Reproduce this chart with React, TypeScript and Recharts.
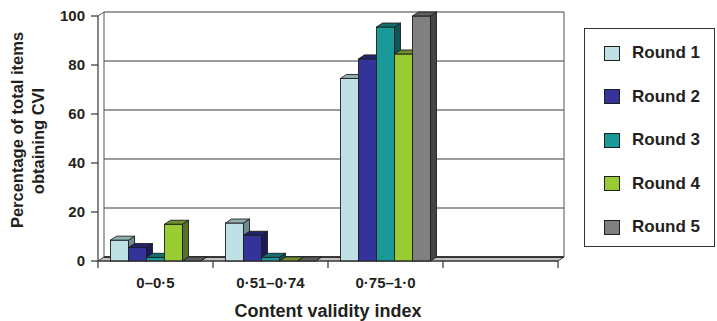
import React from "react";
import { BarChart, Bar, XAxis, YAxis, CartesianGrid, Legend } from "recharts";

// Content validity index bands (the last slot is left empty)
const categories = ["0–0·5", "0·51–0·74", "0·75–1·0", ""];

// Percentage of total items per round
const round1 = [8.5, 15.5, 74.5, null];
const round2 = [5.5, 10.5, 82.5, null];
const round3 = [1.5, 1.5, 95.5, null];
const round4 = [15, 0, 84.5, null];
const round5 = [0, 0, 100, null];

const yTicks = [0, 20, 40, 60, 80, 100];

const seriesKeys = ["r1", "r2", "r3", "r4", "r5"];
const seriesNames = ["Round 1", "Round 2", "Round 3", "Round 4", "Round 5"];
const faceColors = ["#BFE1E5", "#333399", "#1A9999", "#99CC33", "#808080"];
const topColors = ["#90B0B3", "#24246E", "#137070", "#6E8F2C", "#5E5E5E"];
const sideColors = ["#6F8C8F", "#1B1B58", "#0E5656", "#56712A", "#444444"];

const data = categories.map((cat, i) => ({
  cat,
  r1: round1[i],
  r2: round2[i],
  r3: round3[i],
  r4: round4[i],
  r5: round5[i],
}));

// depth of the pseudo-3D extrusion
const DX = 6;
const DY = -4;
const EDGE = "#1E1E1E";
const INK = "#231F20";
const FONT = "'Liberation Sans', Arial, Helvetica, sans-serif";
const TICK_SIZE = 7;
const TICK_MARGIN = 2;

const make3DBar = (key: string, i: number) => (props: any) => {
  const { x, y, width, height, payload } = props;
  if (!payload || payload[key] == null) return <g />;
  const h = Math.max(0, height || 0);
  const w = width;
  const top = `${x},${y} ${x + DX},${y + DY} ${x + w + DX},${y + DY} ${x + w},${y}`;
  const side = `${x + w},${y} ${x + w + DX},${y + DY} ${x + w + DX},${y + h + DY} ${x + w},${y + h}`;
  return (
    <g>
      {h > 0 && (
        <rect x={x} y={y} width={w} height={h} fill={faceColors[i]} stroke={EDGE} strokeWidth={0.9} />
      )}
      <polygon points={side} fill={sideColors[i]} stroke={EDGE} strokeWidth={0.9} strokeLinejoin="round" />
      <polygon points={top} fill={topColors[i]} stroke={EDGE} strokeWidth={0.9} strokeLinejoin="round" />
    </g>
  );
};

// Back wall gridlines, wall edges and floor, drawn from the grid's own geometry
const renderWallLine = (p: any) => {
  const { x1, y1, x2, x, y, width, height } = p;
  const left = x1 ?? x;
  const right = x2 ?? x + width;
  const top = y;
  const bottom = y + height;
  if (Math.abs(y1 - bottom) < 0.5) {
    const floor = `${left},${y1} ${right},${y1} ${right + DX},${y1 + DY} ${left + DX},${y1 + DY}`;
    return (
      <g key={p.key}>
        <polygon points={floor} fill="#C4C4C4" stroke="#3A3A3A" strokeWidth={1} />
        <line x1={left + DX} y1={y1 + DY} x2={right + DX} y2={y1 + DY} stroke="#1A1A1A" strokeWidth={1.6} />
      </g>
    );
  }
  const isTop = Math.abs(y1 - top) < 0.5;
  return (
    <g key={p.key}>
      <line x1={left + DX} y1={y1 + DY} x2={right + DX} y2={y1 + DY} stroke="#3A3A3A" strokeWidth={1.1} />
      {isTop && (
        <g>
          <line x1={left + DX} y1={top + DY} x2={left + DX} y2={bottom + DY} stroke="#555" strokeWidth={1} />
          <line x1={right + DX} y1={top + DY} x2={right + DX} y2={bottom + DY} stroke="#555" strokeWidth={1} />
          <line x1={left} y1={top} x2={left + DX} y2={top + DY} stroke="#555" strokeWidth={1} />
        </g>
      )}
    </g>
  );
};

const XTick = (props: any) => {
  const { x, y, payload, index, visibleTicksCount, width } = props;
  const half =
    payload && payload.offset != null
      ? payload.offset
      : width && visibleTicksCount
      ? width / (visibleTicksCount * 2)
      : 0;
  const axisY = y - TICK_SIZE - TICK_MARGIN;
  const last = index === (visibleTicksCount ?? categories.length) - 1;
  return (
    <g>
      <line x1={x - half} x2={x - half} y1={axisY} y2={axisY + TICK_SIZE} stroke="#333" strokeWidth={1.2} />
      {last && (
        <line x1={x + half} x2={x + half} y1={axisY} y2={axisY + TICK_SIZE} stroke="#333" strokeWidth={1.2} />
      )}
      <text
        x={x}
        y={axisY + 27.3}
        textAnchor="middle"
        fontFamily={FONT}
        fontWeight="bold"
        fontSize={15}
        fill={INK}
      >
        {payload.value}
      </text>
    </g>
  );
};

const XTitle = (props: any) => {
  const vb = props.viewBox || {};
  return (
    <text
      x={vb.x + vb.width / 2}
      y={vb.y + 56}
      textAnchor="middle"
      fontFamily={FONT}
      fontWeight="bold"
      fontSize={18}
      fill={INK}
    >
      Content validity index
    </text>
  );
};

const YTitle = (props: any) => {
  const vb = props.viewBox || {};
  const cy = vb.y + vb.height / 2;
  const l1x = 23;
  const l1y = cy - 8.5;
  const l2x = 44;
  const l2y = cy + 2.5;
  const common = {
    textAnchor: "middle" as const,
    fontFamily: FONT,
    fontWeight: "bold",
    fontSize: 16.5,
    fill: INK,
  };
  return (
    <g>
      <text x={l1x} y={l1y} transform={`rotate(-90 ${l1x} ${l1y})`} {...common}>
        Percentage of total items
      </text>
      <text x={l2x} y={l2y} transform={`rotate(-90 ${l2x} ${l2y})`} {...common}>
        obtaining CVI
      </text>
    </g>
  );
};

const LegendBox = () => (
  <div
    style={{
      boxSizing: "border-box",
      width: 131,
      height: 219,
      border: "1.2px solid #333",
      background: "#fff",
      position: "relative",
    }}
  >
    {seriesNames.map((name, i) => (
      <div
        key={name}
        style={{
          position: "absolute",
          left: 0,
          top: 24 + i * 43.5 - 11,
          height: 22,
          display: "flex",
          alignItems: "center",
        }}
      >
        <span
          style={{
            display: "inline-block",
            boxSizing: "border-box",
            marginLeft: 19,
            width: 16,
            height: 15,
            background: faceColors[i],
            border: "1px solid #1E1E1E",
          }}
        />
        <span
          style={{
            marginLeft: 12,
            fontFamily: FONT,
            fontWeight: "bold",
            fontSize: 17,
            color: INK,
            lineHeight: "22px",
            whiteSpace: "nowrap",
          }}
        >
          {name}
        </span>
      </div>
    ))}
  </div>
);

export default function App() {
  return (
    <div style={{ position: "relative", width: 717, height: 321, background: "#fff" }}>
      <style>{"body{margin:0;background:#fff}"}</style>
      <BarChart
        width={717}
        height={321}
        data={data}
        margin={{ top: 16, right: 28, bottom: 0, left: 0 }}
        barGap={0}
        barCategoryGap={12.5}
      >
        <CartesianGrid vertical={false} horizontal={renderWallLine} />
        <XAxis
          dataKey="cat"
          height={60}
          interval={0}
          tickLine={false}
          tickSize={TICK_SIZE}
          tickMargin={TICK_MARGIN}
          axisLine={{ stroke: "#333", strokeWidth: 1.2 }}
          tick={<XTick />}
          label={{ content: <XTitle /> }}
        />
        <YAxis
          width={98}
          domain={[0, 100]}
          ticks={yTicks}
          interval={0}
          tickSize={TICK_SIZE}
          tickMargin={6}
          axisLine={{ stroke: "#333", strokeWidth: 1.2 }}
          tickLine={{ stroke: "#333", strokeWidth: 1.2 }}
          tick={{ fontFamily: FONT, fontWeight: "bold", fontSize: 15, fill: INK }}
          label={{ content: <YTitle /> }}
        />
        <Legend
          layout="vertical"
          align="right"
          verticalAlign="top"
          content={<LegendBox />}
          wrapperStyle={{ left: 584, top: 28, width: 131, height: 219, right: "auto" }}
        />
        {seriesKeys.map((k, i) => (
          <Bar
            key={k}
            dataKey={k}
            name={seriesNames[i]}
            fill={faceColors[i]}
            shape={make3DBar(k, i)}
            isAnimationActive={false}
          />
        ))}
      </BarChart>
    </div>
  );
}
